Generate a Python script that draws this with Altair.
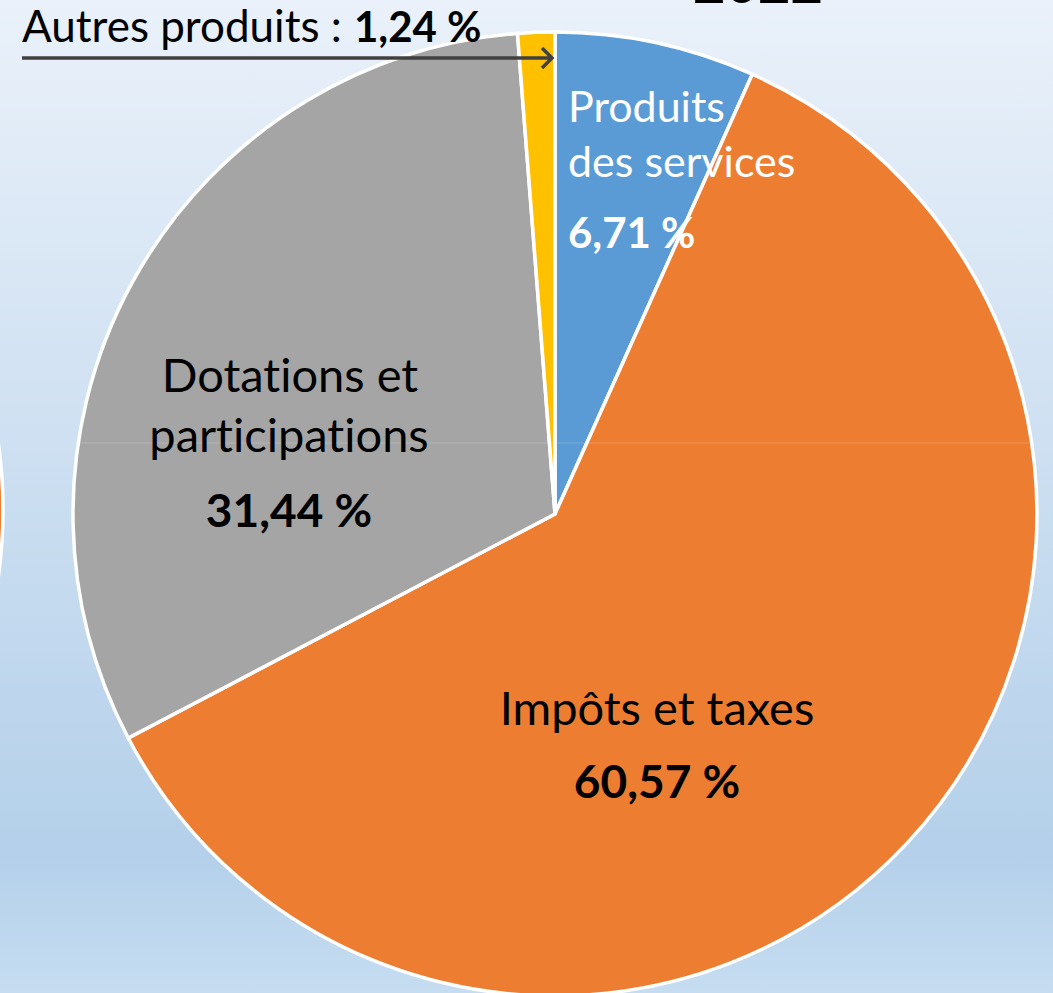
import altair as alt
import pandas as pd

# ---- data ----
categories = ["Produits des services", "Impôts et taxes", "Dotations et participations", "Autres produits"]
values = [6.71, 60.57, 31.44, 1.24]
colors = ["#5b9bd5", "#ed7d31", "#a5a5a5", "#ffc000"]
year = "2022"

# label lines (name split over lines) per category
name_lines = {
    "Produits des services": ["Produits", "des services"],
    "Impôts et taxes": ["Impôts et taxes"],
    "Dotations et participations": ["Dotations et", "participations"],
}

W, H = 1053, 993
CX, CY, R = 555, 514, 482
FONT = "Lato"
ZWNJ = "\u200c"


def noliga(s):
    # avoid the "ti" ligature of the font
    return s.replace("ti", "t" + ZWNJ + "i")


def pct(v):
    return f"{v:.2f}".replace(".", ",") + " %"


df = pd.DataFrame({"cat": categories, "val": values, "idx": list(range(len(values)))})
one = alt.Data(values=[{"k": 1}])

bg = alt.Chart(one).mark_rect(
    fill=alt.Gradient(
        gradient="linear",
        stops=[
            alt.GradientStop(color="#eaf1fa", offset=0),
            alt.GradientStop(color="#b4d0ea", offset=0.86),
            alt.GradientStop(color="#c6ddf1", offset=1),
        ],
        x1=0, x2=0, y1=0, y2=1,
    )
).encode(x=alt.value(0), x2=alt.value(W), y=alt.value(0), y2=alt.value(H))

# neighbouring (cut-off) pie on the left edge
left_arc = alt.Chart(one).mark_arc(
    theta=0, theta2=6.2832, outerRadius=R, fill="#ed7d31", stroke="white", strokeWidth=3.5
).encode(x=alt.value(-479), y=alt.value(510))

pie = alt.Chart(df).mark_arc(outerRadius=R, stroke="white", strokeWidth=3.5).encode(
    theta=alt.Theta("val:Q", stack=True),
    color=alt.Color("cat:N", scale=alt.Scale(domain=categories, range=colors), legend=None),
    order=alt.Order("idx:Q"),
    x=alt.value(CX),
    y=alt.value(CY),
)

faint = alt.Chart(one).mark_rule(color="white", opacity=0.18, strokeWidth=1).encode(
    x=alt.value(75), x2=alt.value(1036), y=alt.value(443)
)


def txt(s, x, y, bold=False, color="black", align="left", size=47):
    return alt.Chart(one).mark_text(
        font=FONT, fontSize=size, fontWeight="bold" if bold else "normal",
        color=color, align=align, baseline="alphabetic",
    ).encode(x=alt.value(x), y=alt.value(y), text=alt.value(noliga(s)))


texts = [
    # Produits des services
    txt(name_lines[categories[0]][0], 568, 122, color="white", size=43),
    txt(name_lines[categories[0]][1], 568, 177, color="white", size=43),
    txt(pct(values[0]), 568, 248, bold=True, color="white", size=42),
    # Impôts et taxes
    txt(name_lines[categories[1]][0], 657, 725, align="center"),
    txt(pct(values[1]), 657, 798, bold=True, align="center", size=46),
    # Dotations et participations
    txt(name_lines[categories[2]][0], 290, 392, align="center"),
    txt(name_lines[categories[2]][1], 289, 452, align="center"),
    txt(pct(values[2]), 289, 527, bold=True, align="center", size=46),
    # Autres produits (outside)
    txt(categories[3] + " :", 22, 42, size=44),
    txt(pct(values[3]), 354, 42, bold=True, size=42),
    # title cut off at top
    txt(year, 758, 3, bold=True, align="center", size=56),
]

arrow_line = alt.Chart(one).mark_rule(color="#404040", strokeWidth=3.5).encode(
    x=alt.value(22), x2=alt.value(551), y=alt.value(58)
)
arrow_head = alt.Chart(one).mark_point(
    shape="M -1 -1 L 0 0 L -1 1", size=400, filled=False, stroke="#404040", strokeWidth=3.5, opacity=1
).encode(x=alt.value(552), y=alt.value(58))

chart = alt.layer(bg, left_arc, pie, faint, *texts, arrow_line, arrow_head).properties(
    width=W, height=H, padding=0, autosize="none", background="#eaf1fa"
).configure_view(stroke=None)

chart.save("out.html", embed_options={"renderer": "svg", "actions": False})
